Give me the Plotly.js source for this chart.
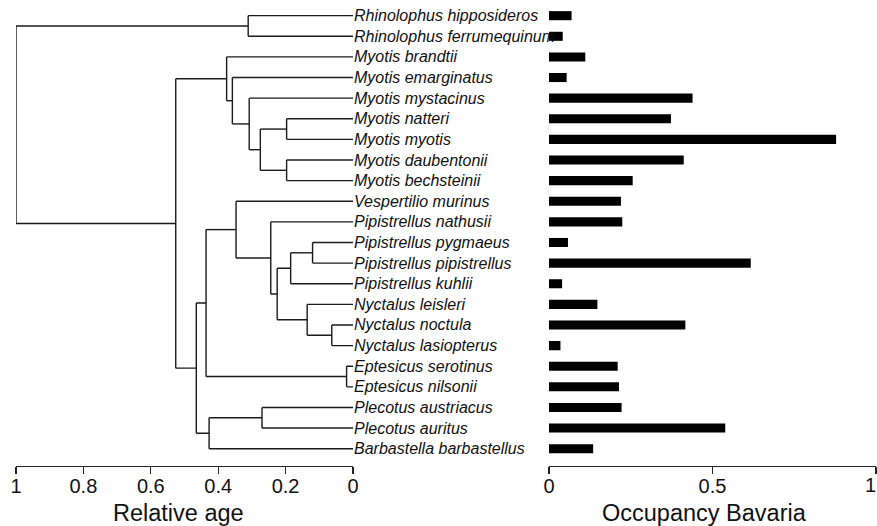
<!DOCTYPE html>
<html>
<head>
<meta charset="utf-8">
<script src="https://cdn.plot.ly/plotly-3.0.1.min.js"></script>
<style>html,body{margin:0;padding:0;background:#fff;}#chart{width:877px;height:526px;}</style>
</head>
<body>
<div id="chart"></div>
<script>
// Tip labels, top to bottom
const species = [
  "Rhinolophus hipposideros","Rhinolophus ferrumequinum","Myotis brandtii","Myotis emarginatus",
  "Myotis mystacinus","Myotis natteri","Myotis myotis","Myotis daubentonii","Myotis bechsteinii",
  "Vespertilio murinus","Pipistrellus nathusii","Pipistrellus pygmaeus","Pipistrellus pipistrellus",
  "Pipistrellus kuhlii","Nyctalus leisleri","Nyctalus noctula","Nyctalus lasiopterus",
  "Eptesicus serotinus","Eptesicus nilsonii","Plecotus austriacus","Plecotus auritus",
  "Barbastella barbastellus"
];
// Occupancy Bavaria per species
const occupancy = [
  0.069,0.042,0.111,0.054,0.439,0.373,0.878,0.412,0.256,0.220,0.224,0.058,0.617,
  0.040,0.148,0.417,0.035,0.210,0.214,0.222,0.539,0.135
];
// Internal nodes of the tree: relative age and children ("t#" = tip index, "n#" = node index)
const nodeAges = [1.0,0.311,0.526,0.375,0.358,0.308,0.275,0.197,0.197,0.465,0.436,0.347,0.244,0.225,0.185,0.120,0.136,0.063,0.019,0.427,0.270];
const nodeKids = [
  ["n1","n2"],["t0","t1"],["n3","n9"],["t2","n4"],["t3","n5"],["t4","n6"],["n7","n8"],
  ["t5","t6"],["t7","t8"],["n10","n19"],["n11","n18"],["t9","n12"],["t10","n13"],
  ["n14","n16"],["n15","t13"],["t11","t12"],["t14","n17"],["t15","t16"],["t17","t18"],
  ["n20","t21"],["t19","t20"]
];
const ageTicks = [1,0.8,0.6,0.4,0.2,0];
const ageTickText = ["1","0.8","0.6","0.4","0.2","0"];
const occTicks = [0,0.5,1];
const occTickText = ["0","0.5","1"];

// positions helper
function posOf(id){
  const k = +id.slice(1);
  if(id[0]==="t") return {x:0, y:k};
  const kids = nodeKids[k].map(posOf);
  return {x:nodeAges[k], y:kids.reduce((s,p)=>s+p.y,0)/kids.length};
}
const lx=[], ly=[];
nodeKids.forEach((kids,i)=>{
  const me = posOf("n"+i);
  const ps = kids.map(posOf);
  const ys = ps.map(p=>p.y);
  lx.push(me.x, me.x, null); ly.push(Math.min(...ys), Math.max(...ys), null);
  ps.forEach(p=>{ lx.push(me.x, p.x, null); ly.push(p.y, p.y, null); });
});

const W=877,H=526;
const rows = species.map((s,i)=>i);
const FONT = "Liberation Sans, Arial, Helvetica, sans-serif";

const traces = [
  {type:"scatter", mode:"lines", x:lx, y:ly, xaxis:"x", yaxis:"y",
   line:{color:"#1a1a1a", width:1.4}, hoverinfo:"skip", showlegend:false},
  {type:"bar", orientation:"h", x:occupancy, y:rows, xaxis:"x2", yaxis:"y",
   width:0.44, marker:{color:"#000", line:{width:0}}, showlegend:false}
];

const annotations = species.map((s,i)=>({
  x:0, y:i, xref:"x", yref:"y", text:s, showarrow:false, xanchor:"left", yanchor:"middle",
  xshift:-1, font:{family:FONT, size:16, color:"#111", style:"italic"}
}));
annotations.push({x:178/W, y:1-513/H, xref:"paper", yref:"paper", text:"Relative age", showarrow:false,
  xanchor:"center", yanchor:"middle", font:{family:FONT, size:23.5, color:"#111"}});
annotations.push({x:704/W, y:1-513/H, xref:"paper", yref:"paper", text:"Occupancy Bavaria", showarrow:false,
  xanchor:"center", yanchor:"middle", font:{family:FONT, size:23.5, color:"#111"}});
// right-edge tick label of the occupancy axis, kept inside the page edge
annotations.push({x:1, y:1-485/H, xref:"paper", yref:"paper", text:occTickText[2], showarrow:false,
  xanchor:"right", yanchor:"middle", borderpad:0, font:{family:FONT, size:20, color:"#111"}});

const axCommon = {showgrid:false, zeroline:false, showline:true, linecolor:"#222", linewidth:1.3,
  ticks:"outside", ticklen:7, tickwidth:1.3, tickcolor:"#222", ticklabelstandoff:-5,
  tickfont:{family:FONT, size:20, color:"#111"}, fixedrange:true, anchor:"y"};

const layout = {
  width:W, height:H, margin:{l:0,r:0,t:0,b:0}, paper_bgcolor:"#fff", plot_bgcolor:"rgba(0,0,0,0)",
  showlegend:false,
  xaxis:Object.assign({}, axCommon, {domain:[16/W, 353/W], range:[1,0], tickvals:ageTicks, ticktext:ageTickText}),
  xaxis2:Object.assign({}, axCommon, {domain:[549/W, 876/W], range:[0,1], tickvals:occTicks, ticktext:["0","0.5",""]}),
  yaxis:{domain:[1-465.5/H, 1], range:[21.815,-0.76], showgrid:false, zeroline:false, showline:false,
    showticklabels:false, ticks:"", fixedrange:true},
  annotations:annotations
};
Plotly.newPlot("chart", traces, layout, {displayModeBar:false, staticPlot:true});
</script>
</body>
</html>
